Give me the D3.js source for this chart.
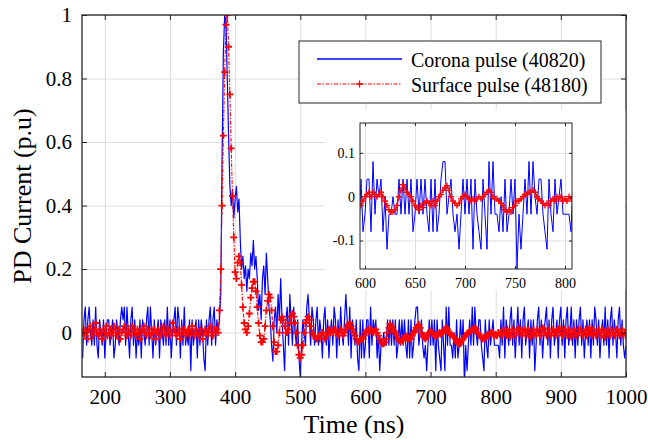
<!DOCTYPE html>
<html><head><meta charset="utf-8">
<script src="https://cdn.jsdelivr.net/npm/d3@7"></script>
<style>
body{margin:0;background:#fff}
svg{display:block}
text{font-family:"Liberation Serif","Times New Roman",serif;fill:#000}
</style>
</head><body>
<svg id="chart" width="648" height="440"></svg>
<script>
// sampling grid (ns)
const sampleStart = 166, sampleStep = 2;

// Corona pulse (40820), normalised PD current
const coronaPulse = [
-0.08,0.04,0.08,-0.04,0.04,0.08,0,-0.04,0.04,-0.04,
0.08,-0.04,-0.08,0.04,0,-0.04,0.04,-0.08,0,0.04,
0.04,-0.04,0,0.04,-0.08,-0.04,0.04,0,-0.04,0.04,
0.08,0.04,0.08,-0.04,0.08,0,-0.08,0.04,0.08,-0.04,
0.04,-0.08,0,-0.04,0.04,-0.08,0.04,0,-0.04,0.04,
0.08,-0.04,0.08,0,-0.08,0.04,-0.04,0,0.04,-0.08,
0.04,0,-0.04,0.04,-0.04,0.08,-0.04,0.04,-0.08,0,
0.04,0.08,-0.04,0.08,0.04,-0.08,0.04,-0.04,0.08,-0.04,
0,-0.04,0.04,-0.12,0.04,-0.04,0,0.04,-0.08,0.04,
-0.04,0.04,0,-0.08,-0.12,0.04,-0.04,0.04,0.08,-0.04,
0.04,0.08,-0.04,0.04,0,
0.04,0.12,0.55,0.88,1.0,0.98,0.80,0.62,0.46,0.40,
0.45,0.36,0.42,0.46,0.38,0.42,0.29,0.20,0.24,0.17,
0.21,0.13,0.20,0.17,0.25,0.21,0.29,0.20,0.24,0.17,
0.07,0.12,0.04,0.17,0.21,0.12,0.25,0.17,0.08,0.04,
-0.04,-0.09,0.04,0.08,0,0.12,0.04,0.17,0.04,-0.04,
-0.12,0.04,0.08,-0.04,0.12,0.04,-0.04,0.08,0,-0.04,
0.04,-0.08,-0.14,-0.04,0.04,0,-0.04,0.08,0.12,0.04,
-0.04,0.08,0.04,
-0.04,0.04,0.08,-0.04,0.04,0,-0.08,0.04,0.08,-0.04,
0.04,-0.08,0,0.04,-0.04,0.08,0.04,-0.08,0.04,-0.04,
0.08,0,-0.04,0.04,0.12,0.04,-0.04,0.08,-0.08,0.04,
0,-0.04,0.04,-0.08,-0.12,0.04,-0.08,
0.04,-0.08,-0.04,0.04,0.04,-0.08,0.08,-0.04,0.04,0,
0.04,-0.08,0,-0.12,-0.04,-0.04,0,-0.04,-0.04,0.04,
-0.04,0.04,-0.04,0.04,-0.04,0.04,-0.08,-0.04,0.04,-0.04,
0.04,-0.04,0.04,-0.04,-0.08,0.04,-0.08,0.04,-0.08,-0.04,
0.04,0.08,0.08,-0.04,0,0.04,-0.04,-0.08,-0.04,-0.12,
-0.04,0.04,-0.04,0.04,-0.04,0.04,-0.12,0.04,-0.04,-0.08,
-0.12,0.04,-0.04,-0.12,0.08,-0.04,0.08,-0.04,-0.04,-0.08,
0,-0.08,0.04,-0.08,-0.04,0.04,-0.04,0.04,-0.165,-0.04,
-0.12,-0.04,0.04,-0.04,0.08,-0.04,0.08,0,-0.04,0.04,
0.04,-0.04,-0.08,-0.12,0.04,-0.04,-0.08,0.04,-0.04,0,
0.04,-0.04,-0.04,-0.04,-0.04,-0.08,
0.04,-0.04,0.08,-0.08,0.04,0,-0.04,0.04,0.08,-0.04,
0.04,-0.08,0,0.08,-0.04,0.04,-0.08,0.04,0.08,-0.04,
0,0.04,-0.08,0.04,-0.04,0.04,-0.12,-0.04,0.04,0.08,
-0.04,0.04,-0.08,0,0.04,0.08,-0.04,0.04,-0.08,0.04,
0.08,-0.04,0,0.04,-0.08,0.04,0.08,-0.04,0.04,-0.08,
0.04,0.08,-0.04,0,0.08,-0.04,0.04,-0.08,0.04,-0.04,
0.04,0.08,-0.04,0.04,-0.08,0,0.04,-0.04,0.04,-0.08,
0.04,-0.04,0.08,0.04,-0.04,0.04,-0.08,0,0.04,-0.04,
0.08,-0.04,0.04,-0.08,0.04,0.08,-0.04,0.04,0,-0.08,
0.04,0.08,-0.04,0.04,-0.04,-0.08,-0.04
];

// Surface pulse (48180), normalised PD current
const surfacePulse = [
0,-0.01,0.01,0,-0.02,0.01,0.02,0,-0.01,0.01,
0.03,0,-0.01,0.01,0,-0.02,0.01,0,0.02,-0.01,
0,0.01,-0.01,0,0.02,0.01,-0.01,0,0.01,-0.02,
0,0.01,0.02,0,-0.01,0.01,0,-0.01,0.02,0.01,
0,-0.01,0.01,0,-0.02,0,0.01,0.02,0,-0.01,
0.01,0,-0.01,0.01,0,0.01,-0.02,0,0.01,0,
-0.01,0.01,0.02,0,-0.01,0,0.01,-0.01,0,0.03,
0.01,0,-0.01,0.01,0,-0.02,0.01,0,0.01,-0.01,
0,0.01,-0.01,0,0.02,0,-0.01,0.01,0,-0.01,
0.01,0,-0.02,0,0.01,0,-0.01,0.01,0.02,0,
-0.01,0.01,0,0.01,
0,0.07,0.2,0.40,0.62,0.82,0.97,1.0,0.90,0.75,
0.58,0.43,0.30,0.19,0.17,0.22,0.24,0.22,0.15,0.08,
0.03,0.01,0,0.02,0.06,0.11,0.14,0.16,0.16,0.13,
0.08,0.03,-0.01,-0.03,-0.03,-0.02,0.02,0.07,0.10,0.12,
0.11,0.07,0.02,-0.03,-0.06,-0.06,-0.04,0,0.04,0.05,
0.04,0.02,0,0,0.01,0.03,0.05,0.06,0.05,0.03,
0,-0.04,-0.07,-0.08,-0.07,-0.04,0,0.03,0.04,0.05,
0.04,0.02,0,-0.01,
-0.01,-0.02,-0.02,-0.01,-0.02,-0.01,0,-0.01,-0.02,-0.01,
0,0.01,0,0.01,0,0.01,0.01,0,-0.01,0,
0.01,0,-0.01,0,0.01,0.02,0.025,0.03,0.02,0.01,
0,-0.01,-0.02,-0.03,-0.03,-0.02,-0.02,
-0.02,-0.01,0,0.005,0.01,0,0.01,0.005,0,0.005,
0.01,0,-0.01,-0.02,-0.03,-0.035,-0.035,-0.03,-0.02,0,
0.015,0.027,0.02,0.01,0.005,0,-0.01,-0.02,-0.025,-0.03,
-0.02,-0.025,-0.015,-0.01,-0.015,-0.02,-0.01,-0.02,-0.01,0,
0.005,0.015,0.02,0.025,0.015,0,-0.01,-0.015,-0.02,-0.015,
-0.005,0,0.005,0,-0.005,-0.01,-0.005,-0.01,-0.005,0,
-0.005,0,0.005,0.01,0.015,0.01,0,-0.005,-0.005,-0.01,
-0.015,-0.02,-0.03,-0.035,-0.03,-0.035,-0.025,-0.02,-0.01,-0.01,
-0.005,0,0.005,0.005,0.01,0.01,0.015,0.01,0,-0.005,
-0.01,-0.015,-0.02,-0.015,-0.02,-0.01,-0.005,-0.01,0,-0.005,
0,-0.01,-0.005,-0.01,0,-0.005,
0,-0.01,0.01,0,-0.01,0.01,0,-0.015,0,0.01,
0,-0.01,0,0.01,0.015,0,-0.01,0,0.01,-0.01,
0,0.01,0,-0.015,0,0.01,0,-0.01,0.01,0,
-0.01,0,0.015,0.01,0,-0.01,0,0.01,-0.01,0,
0.01,0,-0.01,0,0.01,0.015,0,-0.01,0,0.01,
0,-0.01,0.01,0,-0.015,0,0.01,0,-0.01,0.01,
0,0.01,0,-0.01,0,0.01,-0.01,0,0.015,0,
-0.01,0.01,0,-0.01,0,0.01,0,-0.01,0.01,0,
-0.015,0,0.01,0,-0.01,0.01,0,-0.01,0,0.01,
0,-0.01,0,0.01,-0.01,0,-0.01
];

const seriesNames = ["Corona pulse (40820)", "Surface pulse (48180)"];
const xTicks = [200, 300, 400, 500, 600, 700, 800, 900, 1000];
const xTickLabels = ["200", "300", "400", "500", "600", "700", "800", "900", "1000"];
const yTicks = [0, 0.2, 0.4, 0.6, 0.8, 1];
const yTickLabels = ["0", "0.2", "0.4", "0.6", "0.8", "1"];
const insetXTicks = [600, 650, 700, 750, 800];
const insetXTickLabels = ["600", "650", "700", "750", "800"];
const insetYTicks = [-0.1, 0, 0.1];
const insetYTickLabels = ["-0.1", "0", "0.1"];
const xLabel = "Time (ns)";
const yLabel = "PD Current (p.u)";

// ---------- drawing ----------
const blueColor = "#0000ff", redColor = "#ff0000";
const gridColor = "#dedede", frameColor = "#262626";
const svg = d3.select("#chart");
const times = coronaPulse.map((_, i) => sampleStart + i * sampleStep);
const coronaData = times.map((t, i) => ({t, v: coronaPulse[i]}));
const surfaceData = times.map((t, i) => ({t, v: surfacePulse[i]}));

function drawPanel(g, box, xDom, yDom, opt) {
  const x = d3.scaleLinear().domain(xDom).range([box.l, box.r]);
  const y = d3.scaleLinear().domain(yDom).range([box.b, box.t]);
  const w = box.r - box.l, h = box.b - box.t;
  const id = opt.id;
  g.append("clipPath").attr("id", id).append("rect")
    .attr("x", box.l).attr("y", box.t).attr("width", w).attr("height", h);

  // grid
  const gx = g.append("g").attr("transform", `translate(0,${box.b})`)
    .call(d3.axisBottom(x).tickValues(opt.xTicks).tickSize(-h).tickFormat(""));
  const gy = g.append("g").attr("transform", `translate(${box.l},0)`)
    .call(d3.axisLeft(y).tickValues(opt.yTicks).tickSize(-w).tickFormat(""));
  [gx, gy].forEach(a => {
    a.select(".domain").remove();
    a.selectAll("line").attr("stroke", gridColor).attr("stroke-width", 1);
  });

  // data
  const dg = g.append("g").attr("clip-path", `url(#${id})`);
  const data1 = coronaData.filter(d => d.t >= xDom[0] - 4 && d.t <= xDom[1] + 4);
  const data2 = surfaceData.filter(d => d.t >= xDom[0] - 4 && d.t <= xDom[1] + 4);
  const line = d3.line().x(d => x(d.t)).y(d => y(d.v));
  dg.append("path").datum(data1).attr("d", line).attr("fill", "none")
    .attr("stroke", blueColor).attr("stroke-width", opt.bw).attr("stroke-linejoin", "round");
  dg.append("path").datum(data2).attr("d", line).attr("fill", "none")
    .attr("stroke", redColor).attr("stroke-width", 1.1).attr("stroke-dasharray", "4,1.5,1.5,1.5");
  const s = opt.ms;
  dg.append("path").attr("fill", "none").attr("stroke", redColor).attr("stroke-width", opt.mw)
    .attr("d", data2.map(d => {
      const px = x(d.t), py = y(d.v);
      return `M${px - s},${py}h${2 * s}M${px},${py - s}v${2 * s}`;
    }).join(""));

  // axes with labels and inward ticks
  const ax = g.append("g").attr("transform", `translate(0,${box.b})`)
    .call(d3.axisBottom(x).tickValues(opt.xTicks).tickSizeInner(-opt.tl).tickSizeOuter(0).tickPadding(opt.xpad)
      .tickFormat((d, i) => opt.xLabels[i]));
  const axT = g.append("g").attr("transform", `translate(0,${box.t})`)
    .call(d3.axisTop(x).tickValues(opt.xTicks).tickSizeInner(-opt.tl).tickSizeOuter(0).tickFormat(""));
  const ay = g.append("g").attr("transform", `translate(${box.l},0)`)
    .call(d3.axisLeft(y).tickValues(opt.yTicks).tickSizeInner(-opt.tl).tickSizeOuter(0).tickPadding(opt.ypad)
      .tickFormat((d, i) => opt.yLabels[i]));
  const ayR = g.append("g").attr("transform", `translate(${box.r},0)`)
    .call(d3.axisRight(y).tickValues(opt.yTicks).tickSizeInner(-opt.tl).tickSizeOuter(0).tickFormat(""));
  [ax, axT, ay, ayR].forEach(a => {
    a.attr("font-family", null);
    a.select(".domain").remove();
    a.selectAll("line").attr("stroke", frameColor).attr("stroke-width", 1);
    a.selectAll("text").attr("font-size", opt.fs).attr("fill", "#000")
      .style("font-family", '"Liberation Serif","Times New Roman",serif');
  });
  g.append("rect").attr("x", box.l).attr("y", box.t).attr("width", w).attr("height", h)
    .attr("fill", "none").attr("stroke", frameColor).attr("stroke-width", opt.fw);
  return {x, y};
}

// main axes
const main = {l: 82, r: 626, t: 15, b: 377};
const mg = svg.append("g");
drawPanel(mg, main, [165, 1000], [-0.14, 1], {
  id: "clipMain", xTicks, xLabels: xTickLabels, yTicks, yLabels: yTickLabels, bw: 1.2, ms: 3.5, mw: 1.8,
  tl: 5, xpad: 12, ypad: 10, fs: 21, fw: 1.3
});

// axis titles
svg.append("text").attr("x", (main.l + main.r) / 2).attr("y", 433).attr("text-anchor", "middle")
  .attr("font-size", 26).text(xLabel);
svg.append("text").attr("transform", `translate(31,${(main.t + main.b) / 2}) rotate(-90)`)
  .attr("text-anchor", "middle").attr("font-size", 26).text(yLabel);

// inset
svg.append("rect").attr("x", 325).attr("y", 110).attr("width", main.r - 325 - 0.7).attr("height", 180).attr("fill", "#fff");
const ig = svg.append("g");
drawPanel(ig, {l: 360, r: 572, t: 123, b: 269}, [595, 807], [-0.165, 0.168], {
  id: "clipInset", xTicks: insetXTicks, xLabels: insetXTickLabels, yTicks: insetYTicks, yLabels: insetYTickLabels,
  bw: 1, ms: 3, mw: 1.4, tl: 3, xpad: 9, ypad: 5, fs: 14, fw: 1
});

// legend
const lg = svg.append("g");
lg.append("rect").attr("x", 299).attr("y", 41).attr("width", 302).attr("height", 62)
  .attr("fill", "#fff").attr("stroke", frameColor).attr("stroke-width", 1);
const legendY = [59, 84];
lg.append("line").attr("x1", 317).attr("x2", 402).attr("y1", legendY[0]).attr("y2", legendY[0])
  .attr("stroke", blueColor).attr("stroke-width", 1.3);
lg.append("line").attr("x1", 317).attr("x2", 402).attr("y1", legendY[1]).attr("y2", legendY[1])
  .attr("stroke", redColor).attr("stroke-width", 1.1).attr("stroke-dasharray", "4,1.5,1.5,1.5");
lg.append("path").attr("d", `M${359.5 - 3.5},${legendY[1]}h7M359.5,${legendY[1] - 3.5}v7`)
  .attr("stroke", redColor).attr("stroke-width", 1.3).attr("fill", "none");
seriesNames.forEach((n, i) => {
  lg.append("text").attr("x", 411).attr("y", legendY[i] + 7.5).attr("font-size", 20).text(n);
});
</script>
</body></html>
